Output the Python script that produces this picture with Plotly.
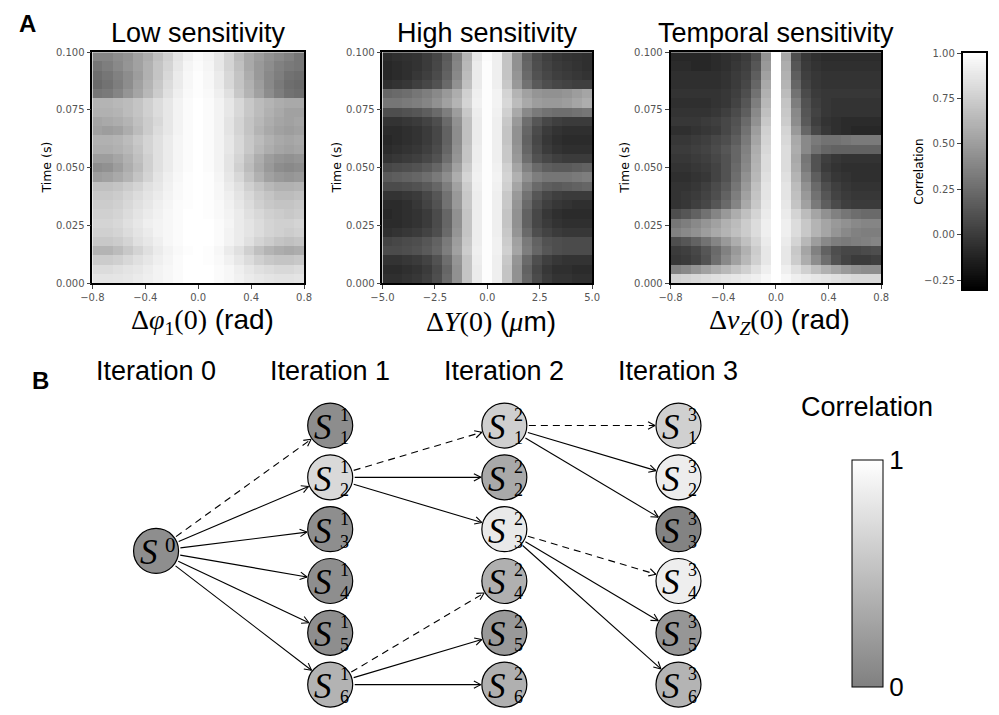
import numpy as np
import plotly.graph_objects as go

W, H = 999, 715

# ---------------- Panel A: correlation maps (rows listed top -> bottom, 0.1 s -> 0 s) ----------------
LOW_X_RANGE = (-0.8, 0.8)
HIGH_X_RANGE = (-5.0, 5.0)
TEMP_X_RANGE = (-0.8, 0.8)
TIME_RANGE = (0.0, 0.1)

low_rows = [
    [0.38,0.38,0.42,0.45,0.52,0.58,0.68,0.76,0.86,0.93,0.97,0.94,0.88,0.78,0.66,0.56,0.50,0.44,0.40,0.36,0.30],
    [0.30,0.34,0.40,0.46,0.52,0.60,0.70,0.78,0.88,0.95,0.98,0.95,0.88,0.78,0.68,0.56,0.48,0.42,0.36,0.32,0.30],
    [0.26,0.30,0.36,0.42,0.50,0.60,0.70,0.80,0.90,0.96,0.99,0.96,0.90,0.80,0.70,0.58,0.48,0.40,0.34,0.28,0.26],
    [0.24,0.28,0.34,0.42,0.52,0.62,0.72,0.82,0.90,0.96,0.99,0.96,0.90,0.80,0.70,0.60,0.50,0.40,0.32,0.26,0.24],
    [0.30,0.32,0.38,0.46,0.54,0.64,0.74,0.84,0.92,0.97,0.99,0.97,0.92,0.84,0.72,0.62,0.52,0.42,0.34,0.28,0.26],
    [0.62,0.62,0.64,0.66,0.70,0.76,0.82,0.88,0.94,0.98,1.00,0.98,0.94,0.88,0.80,0.72,0.66,0.62,0.58,0.56,0.56],
    [0.60,0.60,0.62,0.66,0.70,0.76,0.82,0.88,0.94,0.98,1.00,0.98,0.94,0.88,0.80,0.72,0.66,0.60,0.56,0.52,0.52],
    [0.54,0.56,0.58,0.62,0.68,0.74,0.80,0.88,0.94,0.98,1.00,0.98,0.94,0.86,0.78,0.70,0.64,0.58,0.54,0.52,0.54],
    [0.52,0.50,0.52,0.58,0.66,0.74,0.82,0.88,0.94,0.98,1.00,0.98,0.94,0.86,0.78,0.70,0.62,0.56,0.52,0.50,0.52],
    [0.60,0.60,0.62,0.66,0.72,0.78,0.84,0.90,0.95,0.98,1.00,0.98,0.94,0.88,0.80,0.72,0.66,0.60,0.56,0.54,0.56],
    [0.58,0.58,0.60,0.64,0.70,0.78,0.84,0.90,0.95,0.98,1.00,0.98,0.94,0.88,0.80,0.72,0.64,0.58,0.54,0.52,0.54],
    [0.50,0.50,0.54,0.60,0.68,0.76,0.84,0.90,0.95,0.98,1.00,0.98,0.94,0.86,0.78,0.68,0.58,0.50,0.46,0.44,0.46],
    [0.42,0.44,0.50,0.58,0.66,0.76,0.84,0.90,0.95,0.98,1.00,0.98,0.94,0.86,0.76,0.66,0.56,0.48,0.42,0.40,0.42],
    [0.50,0.52,0.56,0.62,0.70,0.78,0.86,0.92,0.96,0.99,1.00,0.99,0.95,0.88,0.80,0.70,0.60,0.52,0.48,0.46,0.48],
    [0.68,0.68,0.70,0.74,0.78,0.84,0.88,0.93,0.97,0.99,1.00,0.99,0.96,0.90,0.84,0.76,0.70,0.64,0.60,0.60,0.62],
    [0.72,0.72,0.74,0.78,0.82,0.86,0.90,0.94,0.97,0.99,1.00,0.99,0.96,0.92,0.86,0.80,0.74,0.70,0.66,0.66,0.68],
    [0.74,0.74,0.76,0.80,0.84,0.88,0.92,0.95,0.98,0.99,1.00,0.99,0.97,0.93,0.88,0.82,0.76,0.72,0.70,0.70,0.72],
    [0.76,0.76,0.78,0.82,0.86,0.90,0.93,0.96,0.98,1.00,1.00,0.99,0.97,0.94,0.90,0.84,0.80,0.76,0.74,0.72,0.74],
    [0.78,0.78,0.80,0.84,0.88,0.92,0.94,0.96,0.98,1.00,1.00,1.00,0.98,0.95,0.90,0.86,0.82,0.78,0.76,0.76,0.78],
    [0.76,0.76,0.78,0.82,0.86,0.90,0.94,0.96,0.98,1.00,1.00,1.00,0.98,0.94,0.90,0.86,0.82,0.78,0.76,0.74,0.76],
    [0.72,0.72,0.74,0.78,0.84,0.88,0.92,0.96,0.98,1.00,1.00,1.00,0.98,0.94,0.90,0.84,0.78,0.74,0.70,0.68,0.70],
    [0.62,0.62,0.66,0.72,0.78,0.84,0.90,0.94,0.97,0.99,1.00,0.99,0.96,0.90,0.84,0.76,0.68,0.62,0.58,0.56,0.58],
    [0.74,0.74,0.76,0.80,0.84,0.88,0.92,0.95,0.98,1.00,1.00,0.99,0.97,0.93,0.88,0.82,0.76,0.72,0.70,0.70,0.72],
    [0.82,0.82,0.84,0.86,0.88,0.91,0.94,0.96,0.98,1.00,1.00,1.00,0.98,0.96,0.92,0.88,0.84,0.82,0.80,0.80,0.82],
    [0.86,0.86,0.87,0.88,0.90,0.92,0.94,0.96,0.98,1.00,1.00,1.00,0.98,0.96,0.93,0.90,0.88,0.86,0.85,0.85,0.86],
]

high_rows = [
    [-0.08,-0.06,-0.05,-0.04,0.00,0.05,0.16,0.36,0.62,0.88,0.98,0.92,0.70,0.44,0.20,0.08,0.02,-0.02,-0.04,-0.05,-0.06],
    [-0.10,-0.08,-0.06,-0.04,0.00,0.06,0.18,0.38,0.64,0.90,0.99,0.92,0.70,0.44,0.22,0.10,0.04,0.00,-0.02,-0.04,-0.06],
    [-0.10,-0.08,-0.06,-0.02,0.02,0.08,0.20,0.40,0.66,0.90,0.99,0.92,0.70,0.46,0.24,0.12,0.06,0.02,0.00,-0.02,-0.04],
    [-0.06,-0.04,-0.02,0.02,0.06,0.12,0.24,0.44,0.68,0.90,0.99,0.92,0.72,0.48,0.28,0.16,0.10,0.06,0.04,0.02,0.02],
    [0.22,0.24,0.26,0.30,0.34,0.40,0.48,0.58,0.76,0.92,0.99,0.94,0.78,0.62,0.52,0.46,0.44,0.44,0.46,0.50,0.54],
    [0.30,0.30,0.32,0.34,0.38,0.44,0.52,0.62,0.78,0.93,0.99,0.94,0.80,0.66,0.56,0.50,0.48,0.48,0.50,0.54,0.58],
    [0.10,0.10,0.12,0.14,0.18,0.24,0.34,0.50,0.72,0.91,0.99,0.93,0.76,0.56,0.40,0.32,0.28,0.26,0.26,0.28,0.30],
    [-0.04,-0.04,-0.02,0.00,0.04,0.10,0.24,0.44,0.68,0.90,0.99,0.92,0.72,0.48,0.26,0.14,0.06,0.02,0.00,0.00,0.00],
    [-0.08,-0.08,-0.06,-0.04,0.00,0.06,0.20,0.42,0.68,0.90,0.99,0.92,0.70,0.44,0.22,0.08,0.00,-0.04,-0.06,-0.06,-0.06],
    [-0.10,-0.08,-0.06,-0.04,0.00,0.06,0.20,0.42,0.68,0.90,0.99,0.92,0.70,0.44,0.20,0.06,-0.02,-0.06,-0.08,-0.08,-0.08],
    [-0.08,-0.06,-0.04,-0.02,0.02,0.08,0.22,0.44,0.70,0.91,0.99,0.92,0.72,0.46,0.22,0.08,0.00,-0.04,-0.06,-0.06,-0.06],
    [-0.04,-0.02,0.00,0.02,0.06,0.12,0.26,0.46,0.70,0.91,0.99,0.92,0.72,0.48,0.26,0.12,0.06,0.02,0.00,0.00,0.00],
    [0.06,0.08,0.10,0.12,0.16,0.22,0.34,0.52,0.74,0.92,0.99,0.93,0.76,0.54,0.36,0.24,0.18,0.16,0.16,0.18,0.20],
    [0.16,0.18,0.20,0.22,0.26,0.32,0.42,0.58,0.78,0.93,0.99,0.94,0.78,0.60,0.44,0.34,0.30,0.30,0.30,0.32,0.34],
    [0.08,0.08,0.10,0.12,0.16,0.22,0.34,0.52,0.74,0.92,0.99,0.93,0.76,0.54,0.36,0.24,0.18,0.16,0.18,0.20,0.22],
    [-0.04,-0.04,-0.02,0.00,0.06,0.14,0.28,0.48,0.72,0.91,0.99,0.92,0.72,0.48,0.28,0.14,0.06,0.02,0.00,0.00,0.00],
    [-0.08,-0.08,-0.06,-0.02,0.04,0.12,0.28,0.48,0.72,0.91,0.99,0.92,0.72,0.46,0.24,0.10,0.02,-0.02,-0.04,-0.06,-0.06],
    [-0.10,-0.08,-0.06,-0.04,0.00,0.08,0.22,0.44,0.70,0.91,0.99,0.92,0.70,0.44,0.20,0.06,-0.02,-0.06,-0.08,-0.08,-0.08],
    [-0.08,-0.08,-0.06,-0.04,0.00,0.08,0.22,0.44,0.70,0.91,0.99,0.92,0.70,0.44,0.20,0.06,0.00,-0.04,-0.06,-0.06,-0.06],
    [-0.06,-0.04,-0.02,0.00,0.04,0.10,0.24,0.46,0.70,0.91,0.99,0.92,0.72,0.46,0.24,0.10,0.04,0.00,-0.02,-0.02,-0.02],
    [0.04,0.06,0.08,0.10,0.14,0.20,0.32,0.50,0.72,0.91,0.99,0.93,0.74,0.52,0.32,0.20,0.12,0.10,0.08,0.08,0.08],
    [0.08,0.08,0.10,0.12,0.16,0.22,0.34,0.52,0.74,0.92,0.99,0.93,0.76,0.54,0.34,0.22,0.14,0.10,0.08,0.08,0.08],
    [-0.04,-0.04,-0.02,0.00,0.04,0.12,0.26,0.46,0.70,0.91,0.99,0.92,0.72,0.46,0.24,0.10,0.02,-0.02,-0.04,-0.04,-0.04],
    [-0.08,-0.08,-0.06,-0.04,0.00,0.08,0.22,0.44,0.70,0.90,0.99,0.92,0.70,0.44,0.20,0.06,-0.02,-0.06,-0.06,-0.08,-0.08],
    [-0.06,-0.06,-0.04,-0.02,0.02,0.10,0.24,0.44,0.70,0.90,0.99,0.92,0.70,0.44,0.22,0.08,0.00,-0.04,-0.04,-0.06,-0.06],
]

temp_rows = [
    [-0.10,-0.10,-0.10,-0.10,-0.08,-0.06,-0.04,0.00,0.10,0.45,1.00,0.55,0.10,-0.02,-0.06,-0.08,-0.08,-0.08,-0.08,-0.08,-0.08],
    [-0.08,-0.08,-0.10,-0.10,-0.08,-0.06,-0.02,0.02,0.14,0.48,1.00,0.58,0.14,0.00,-0.04,-0.06,-0.06,-0.06,-0.06,-0.06,-0.06],
    [-0.06,-0.06,-0.06,-0.06,-0.06,-0.04,0.00,0.04,0.18,0.52,1.00,0.60,0.18,0.02,-0.02,-0.04,-0.04,-0.04,-0.04,-0.04,-0.04],
    [-0.06,-0.06,-0.06,-0.06,-0.06,-0.04,0.00,0.06,0.22,0.56,1.00,0.62,0.22,0.04,-0.02,-0.04,-0.04,-0.04,-0.04,-0.04,-0.04],
    [-0.04,-0.04,-0.04,-0.04,-0.04,-0.02,0.02,0.10,0.28,0.60,1.00,0.66,0.28,0.08,0.00,-0.02,-0.02,-0.02,-0.02,-0.02,-0.02],
    [-0.06,-0.06,-0.06,-0.06,-0.04,-0.02,0.04,0.14,0.34,0.64,1.00,0.70,0.34,0.12,0.02,-0.02,-0.04,-0.04,-0.04,-0.04,-0.04],
    [-0.04,-0.04,-0.04,-0.04,-0.02,0.02,0.08,0.18,0.40,0.68,1.00,0.72,0.40,0.14,0.04,-0.02,-0.04,-0.04,-0.04,-0.04,-0.04],
    [-0.02,-0.02,-0.02,0.00,0.02,0.06,0.12,0.24,0.44,0.72,1.00,0.74,0.42,0.16,0.02,-0.04,-0.06,-0.08,-0.08,-0.08,-0.08],
    [-0.06,-0.06,-0.04,-0.02,0.00,0.06,0.14,0.28,0.50,0.76,1.00,0.78,0.48,0.22,0.06,-0.02,-0.06,-0.08,-0.10,-0.10,-0.10],
    [-0.02,-0.02,0.00,0.02,0.06,0.10,0.18,0.32,0.54,0.78,1.00,0.80,0.56,0.40,0.32,0.28,0.28,0.30,0.32,0.32,0.32],
    [0.00,0.00,0.02,0.04,0.08,0.14,0.22,0.36,0.58,0.80,1.00,0.82,0.58,0.40,0.28,0.22,0.20,0.20,0.20,0.20,0.20],
    [-0.02,-0.02,0.00,0.02,0.06,0.12,0.22,0.38,0.60,0.82,1.00,0.82,0.56,0.30,0.12,0.02,-0.02,-0.04,-0.04,-0.04,-0.04],
    [-0.04,-0.04,-0.02,0.00,0.04,0.12,0.24,0.40,0.62,0.82,1.00,0.82,0.58,0.32,0.12,0.00,-0.04,-0.06,-0.06,-0.06,-0.06],
    [-0.06,-0.06,-0.04,-0.02,0.04,0.12,0.26,0.44,0.64,0.84,1.00,0.84,0.62,0.38,0.18,0.04,-0.02,-0.04,-0.06,-0.06,-0.06],
    [-0.04,-0.04,-0.02,0.02,0.08,0.16,0.30,0.48,0.68,0.86,1.00,0.86,0.66,0.44,0.24,0.10,0.02,-0.02,-0.04,-0.04,-0.04],
    [-0.04,-0.02,0.00,0.04,0.10,0.20,0.34,0.52,0.70,0.86,1.00,0.86,0.68,0.48,0.28,0.14,0.04,0.00,-0.02,-0.02,-0.02],
    [-0.04,-0.02,0.02,0.06,0.14,0.24,0.38,0.56,0.72,0.88,1.00,0.88,0.70,0.52,0.32,0.18,0.08,0.02,0.00,0.00,0.00],
    [0.10,0.14,0.20,0.28,0.38,0.48,0.58,0.68,0.78,0.90,1.00,0.90,0.78,0.66,0.54,0.44,0.36,0.30,0.26,0.24,0.24],
    [0.30,0.34,0.40,0.46,0.52,0.60,0.66,0.74,0.82,0.92,1.00,0.92,0.82,0.72,0.62,0.54,0.48,0.44,0.40,0.38,0.38],
    [0.36,0.40,0.44,0.50,0.56,0.62,0.68,0.74,0.82,0.92,1.00,0.92,0.82,0.72,0.62,0.54,0.46,0.40,0.36,0.34,0.34],
    [0.10,0.14,0.20,0.28,0.38,0.48,0.58,0.68,0.78,0.90,1.00,0.90,0.78,0.64,0.50,0.40,0.34,0.32,0.34,0.36,0.38],
    [0.00,0.02,0.06,0.14,0.24,0.36,0.48,0.60,0.74,0.88,1.00,0.88,0.72,0.54,0.36,0.20,0.10,0.06,0.06,0.08,0.10],
    [-0.02,0.00,0.04,0.12,0.26,0.40,0.52,0.64,0.76,0.88,1.00,0.88,0.74,0.58,0.42,0.26,0.12,0.04,0.00,0.00,0.02],
    [0.36,0.40,0.46,0.52,0.58,0.64,0.70,0.76,0.84,0.92,1.00,0.92,0.84,0.76,0.68,0.60,0.54,0.48,0.44,0.42,0.42],
    [0.76,0.78,0.80,0.82,0.84,0.86,0.88,0.90,0.92,0.96,1.00,0.96,0.92,0.90,0.88,0.86,0.84,0.82,0.80,0.80,0.80],
]

A_TITLES = ["Low sensitivity", "High sensitivity", "Temporal sensitivity"]
SERIF_SPAN = "<span style='font-family:Liberation Serif'>"
A_XLABELS = [
    SERIF_SPAN + "Δ<i>φ</i><sub>1</sub>(0)</span> (rad)",
    SERIF_SPAN + "Δ<i>Y</i>(0)</span> (" + SERIF_SPAN + "<i>μ</i></span>m)",
    SERIF_SPAN + "Δ<i>ν</i><sub><i>Z</i></sub>(0)</span> (rad)",
]
A_XTICKS = [[-0.8, -0.4, 0.0, 0.4, 0.8], [-5.0, -2.5, 0.0, 2.5, 5.0], [-0.8, -0.4, 0.0, 0.4, 0.8]]
A_XTICKTEXT = [["−0.8", "−0.4", "0.0", "0.4", "0.8"], ["−5.0", "−2.5", "0.0", "2.5", "5.0"],
               ["−0.8", "−0.4", "0.0", "0.4", "0.8"]]
TIME_TICKS = [0.0, 0.025, 0.05, 0.075, 0.1]
TIME_TICKTEXT = ["0.000", "0.025", "0.050", "0.075", "0.100"]
CB_RANGE = (-0.3, 1.0)
CB_TICKS = [-0.25, 0.0, 0.25, 0.5, 0.75, 1.0]
CB_TICKTEXT = ["−0.25", "0.00", "0.25", "0.50", "0.75", "1.00"]

# ---------------- Panel B: search tree ----------------
ITER_LABELS = ["Iteration 0", "Iteration 1", "Iteration 2", "Iteration 3"]
S0_ROW = 3.42
corr_iter0 = [0.11]
corr_iter1 = [0.10, 0.70, 0.11, 0.11, 0.11, 0.40]
corr_iter2 = [0.62, 0.32, 0.83, 0.38, 0.20, 0.38]
corr_iter3 = [0.63, 0.86, 0.02, 0.87, 0.17, 0.41]
# (source iteration, source row, target row, dashed)
edges = [
    (0, S0_ROW, 1, True), (0, S0_ROW, 2, False), (0, S0_ROW, 3, False),
    (0, S0_ROW, 4, False), (0, S0_ROW, 5, False), (0, S0_ROW, 6, False),
    (1, 2, 1, True), (1, 2, 2, False), (1, 2, 3, False),
    (1, 6, 4, True), (1, 6, 5, False), (1, 6, 6, False),
    (2, 1, 1, True), (2, 1, 2, False), (2, 1, 3, False),
    (2, 3, 4, True), (2, 3, 5, False), (2, 3, 6, False),
]

# ---------------- geometry helpers ----------------
def pxx(p):
    return p / W

def pxy(p):
    return 1 - p / H

A_BOXES = [(82, 298), (378, 592), (672, 887)]
A_TOP, A_BOT = 47, 282
CB_BOX = (970, 994, 48, 288)

COL0, COLSTEP = 147.0, 177.7
ROW0, ROWSTEP = 426.7, 52.7
NET_XRANGE = [(0 - COL0) / COLSTEP, (W - COL0) / COLSTEP]
NET_YRANGE = [1 + (H - ROW0) / ROWSTEP, 1 + (0 - ROW0) / ROWSTEP]

def to_px(xi, yr):
    return COL0 + COLSTEP * xi, ROW0 + ROWSTEP * (yr - 1)

def from_px(X, Y):
    return (X - COL0) / COLSTEP, (Y - ROW0) / ROWSTEP + 1

def ann(text, x, y, size, family="Liberation Sans", angle=0, xref="paper", yref="paper", **kw):
    d = dict(text=text, x=x, y=y, xref=xref, yref=yref, showarrow=False, xanchor="center",
             yanchor="middle", textangle=angle, font=dict(family=family, size=size, color="black"))
    d.update(kw)
    return d

fig = go.Figure()
gray = [[0, "black"], [1, "white"]]
tickfont = dict(family="DejaVu Sans", size=10, color="#555555")

ranges = [LOW_X_RANGE, HIGH_X_RANGE, TEMP_X_RANGE]
all_rows = [low_rows, high_rows, temp_rows]
annotations = []
axis_common = dict(ticks="outside", ticklen=4, tickcolor="#444", tickfont=tickfont, showline=True,
                   linecolor="black", linewidth=1.6, mirror=True, showgrid=False, zeroline=False)
for k in range(3):
    rows = all_rows[k][::-1]
    ncol = len(rows[0])
    nrow = len(rows)
    xe = np.linspace(ranges[k][0], ranges[k][1], ncol + 1)
    ye = np.linspace(TIME_RANGE[0], TIME_RANGE[1], nrow + 1)
    ax = "" if k == 0 else str(k + 1)
    fig.add_trace(go.Heatmap(z=rows, x=xe, y=ye, colorscale=gray, zmin=CB_RANGE[0], zmax=CB_RANGE[1],
                             showscale=False, xaxis="x" + ax, yaxis="y" + ax, hoverinfo="skip"))
    l, r = A_BOXES[k]
    fig.layout["xaxis" + ax] = dict(domain=[pxx(l), pxx(r)], range=list(ranges[k]), anchor="y" + ax,
                                    tickvals=A_XTICKS[k], ticktext=A_XTICKTEXT[k], **axis_common)
    fig.layout["yaxis" + ax] = dict(domain=[pxy(A_BOT), pxy(A_TOP)], range=list(TIME_RANGE),
                                    anchor="x" + ax, tickvals=TIME_TICKS, ticktext=TIME_TICKTEXT,
                                    **axis_common)
    cx = (l + r) / 2
    annotations.append(ann(A_TITLES[k], pxx(cx), pxy(27), 27))
    annotations.append(ann(A_XLABELS[k], pxx(cx + 4), pxy(321), 28))
    annotations.append(ann("Time (s)", pxx(l - 47), pxy(164), 12.5, family="DejaVu Sans", angle=-90))

cb_edges = np.linspace(CB_RANGE[0], CB_RANGE[1], 131)
cb_centers = (cb_edges[:-1] + cb_edges[1:]) / 2
fig.add_trace(go.Heatmap(z=[[v] for v in cb_centers], x=[0, 1], y=cb_edges, colorscale=gray,
                         zmin=CB_RANGE[0], zmax=CB_RANGE[1], showscale=False, xaxis="x4", yaxis="y4",
                         hoverinfo="skip"))
fig.layout["xaxis4"] = dict(domain=[pxx(CB_BOX[0]), pxx(CB_BOX[1])], range=[0, 1], anchor="y4",
                            showticklabels=False, ticks="", showline=True, linecolor="black",
                            linewidth=1.6, mirror=True, showgrid=False, zeroline=False)
fig.layout["yaxis4"] = dict(domain=[pxy(CB_BOX[3]), pxy(CB_BOX[2])], range=list(CB_RANGE), anchor="x4",
                            tickvals=CB_TICKS, ticktext=CB_TICKTEXT, **axis_common)
annotations.append(ann("Correlation", pxx(926), pxy(168), 12, family="DejaVu Sans", angle=-90))

# ---------------- Panel B drawing ----------------
R_NODE = 22.5
R_START, R_END = 25.0, 24.0
HEAD_LEN, HEAD_ANG = 8.0, np.deg2rad(28)

solid_x, solid_y, dash_x, dash_y, head_x, head_y = [], [], [], [], [], []
for (si, sr, tr, dashed) in edges:
    X0, Y0 = to_px(si, sr)
    X1, Y1 = to_px(si + 1, tr)
    d = np.array([X1 - X0, Y1 - Y0])
    d = d / np.linalg.norm(d)
    s = np.array([X0, Y0]) + d * R_START
    e = np.array([X1, Y1]) - d * R_END
    a, b = from_px(*s)
    c, f = from_px(*e)
    if dashed:
        dash_x += [a, c, None]; dash_y += [b, f, None]
    else:
        solid_x += [a, c, None]; solid_y += [b, f, None]
    for sgn in (1, -1):
        ang = sgn * HEAD_ANG
        rot = np.array([d[0] * np.cos(ang) - d[1] * np.sin(ang), d[0] * np.sin(ang) + d[1] * np.cos(ang)])
        p = e - rot * HEAD_LEN
        px_, py_ = from_px(*p)
        head_x += [px_, c, None]; head_y += [py_, f, None]

line_style = dict(color="black", width=1.1)
fig.add_trace(go.Scatter(x=solid_x, y=solid_y, mode="lines", line=line_style, xaxis="x5", yaxis="y5",
                         hoverinfo="skip"))
fig.add_trace(go.Scatter(x=dash_x, y=dash_y, mode="lines", line=dict(color="black", width=1.1, dash="7px,5px"),
                         xaxis="x5", yaxis="y5", hoverinfo="skip"))
fig.add_trace(go.Scatter(x=head_x, y=head_y, mode="lines", line=line_style, xaxis="x5", yaxis="y5",
                         hoverinfo="skip"))

node_x, node_y, node_c, node_sup, node_sub = [], [], [], [], []
node_x.append(0); node_y.append(S0_ROW); node_c.append(corr_iter0[0]); node_sup.append("0"); node_sub.append("")
for it, vals in enumerate([corr_iter1, corr_iter2, corr_iter3], start=1):
    for j, v in enumerate(vals, start=1):
        node_x.append(it); node_y.append(j); node_c.append(v)
        node_sup.append(str(it)); node_sub.append(str(j))

fig.add_trace(go.Scatter(
    x=node_x, y=node_y, mode="markers", xaxis="x5", yaxis="y5", hoverinfo="skip",
    marker=dict(size=2 * R_NODE, color=node_c, cmin=0, cmax=1,
                colorscale=[[0, "#808080"], [1, "#ffffff"]], line=dict(color="black", width=1.2),
                colorbar=dict(x=pxx(857), xanchor="left", y=pxy(577.5), yanchor="middle",
                              thickness=31, thicknessmode="pixels", len=227, lenmode="pixels",
                              xpad=0, ypad=0, outlinewidth=1, outlinecolor="black",
                              tickvals=[0, 1], ticktext=["0", "1"], ticks="",
                              tickfont=dict(family="Liberation Sans", size=26, color="black")))))

serif = "Liberation Serif"
for x, y, sup, sub in zip(node_x, node_y, node_sup, node_sub):
    is_root = sub == ""
    annotations.append(ann("<i>S</i>", x, y, 35, family=serif, xref="x5", yref="y5",
                           xshift=-7, yshift=-2))
    if is_root:
        annotations.append(ann(sup, x, y, 21, family=serif, xref="x5", yref="y5",
                               xshift=14, yshift=6))
    else:
        annotations.append(ann(sup + "<br>" + sub, x, y, 18, family=serif, xref="x5", yref="y5",
                               xshift=14, yshift=-1))

for i, lab in enumerate(ITER_LABELS):
    annotations.append(ann(lab, i, pxy(371), 27, xref="x5"))

annotations.append(ann("Correlation", pxx(872), pxy(408), 27))
annotations.append(ann("<b>A</b>", pxx(16), pxy(18), 24))
annotations.append(ann("<b>B</b>", pxx(29), pxy(381), 24))

fig.layout["xaxis5"] = dict(domain=[0, 1], range=NET_XRANGE, anchor="y5", visible=False, fixedrange=True)
fig.layout["yaxis5"] = dict(domain=[0, 1], range=NET_YRANGE, anchor="x5", visible=False, fixedrange=True)

fig.update_layout(width=W, height=H, margin=dict(l=0, r=0, t=0, b=0), showlegend=False,
                  paper_bgcolor="white", plot_bgcolor="rgba(0,0,0,0)", annotations=annotations)

fig.write_html("out.html", post_script="document.body.style.margin='0px';")
